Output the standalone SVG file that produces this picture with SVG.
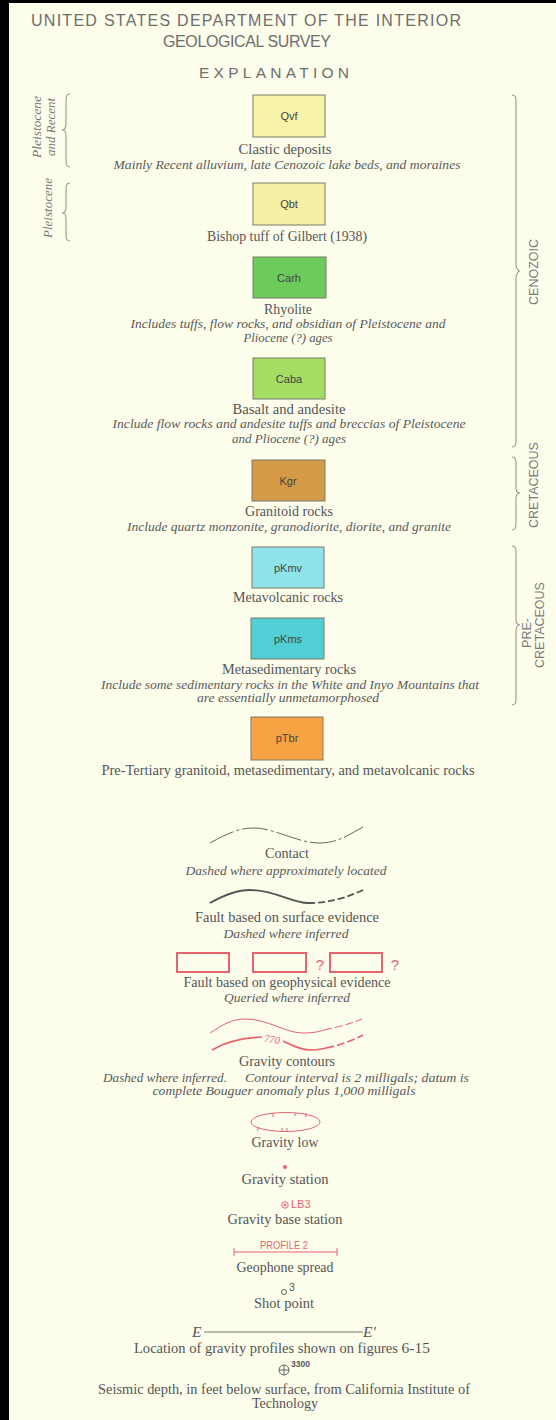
<svg xmlns="http://www.w3.org/2000/svg" width="556" height="1420" viewBox="0 0 556 1420">
<style>
.hd{font-family:"Liberation Sans",Arial,sans-serif;fill:#6e6e6e;text-anchor:middle}
.lb{font-family:"Liberation Serif","Times New Roman",serif;font-size:14.5px;fill:#555;text-anchor:middle}
.ds{font-family:"Liberation Serif","Times New Roman",serif;font-style:italic;font-size:13px;fill:#5a5a5a;text-anchor:middle}
.bx{stroke:#7a7a6a;stroke-width:1}
.bt{font-family:"Liberation Sans",Arial,sans-serif;font-size:11px;fill:#444;text-anchor:middle}
.era{font-family:"Liberation Sans",Arial,sans-serif;font-size:12.5px;fill:#7a7a7a;text-anchor:middle}
.age{font-family:"Liberation Serif","Times New Roman",serif;font-style:italic;font-size:13.5px;fill:#777;text-anchor:middle}
.br{fill:none;stroke:#999;stroke-width:1.1}
.red{fill:none;stroke:#E5646F}
.rt{font-family:"Liberation Sans",Arial,sans-serif;fill:#E5646F}
</style>
<rect x="0" y="0" width="556" height="1420" fill="#FDFDEC"/>
<rect x="0" y="0" width="9" height="1420" fill="#000"/>
<rect x="0" y="0" width="556" height="3" fill="#000"/>

<g id="header">
<text class="hd" x="246" y="26" font-size="16" textLength="430" lengthAdjust="spacing">UNITED STATES DEPARTMENT OF THE INTERIOR</text>
<text class="hd" x="247" y="47" font-size="16" textLength="168" lengthAdjust="spacing">GEOLOGICAL SURVEY</text>
<text class="hd" x="274" y="78" font-size="15.5" textLength="150" lengthAdjust="spacing">EXPLANATION</text>
</g>

<g id="connectors">
<path class="br" d="M70,94 C66,94 66,97 66,102 L66,124 C66,128 64,130 62,130 C64,130 66,132 66,136 L66,159 C66,164 66,167 70,167"/>
<path class="br" d="M70,183 C66,183 66,186 66,191 L66,207 C66,211 64,213 62,213 C64,213 66,215 66,219 L66,233 C66,238 66,241 70,241"/>
<path class="br" d="M512,95 C516,95 516,98 516,103 L516,264 C516,268 518,271 520,271 C518,271 516,274 516,278 L516,439 C516,444 516,447 512,447"/>
<path class="br" d="M512,457 C516,457 516,460 516,465 L516,487 C516,491 518,493 520,493 C518,493 516,495 516,499 L516,522 C516,527 516,530 512,530"/>
<path class="br" d="M512,546 C516,546 516,549 516,554 L516,619 C516,623 518,625 520,625 C518,625 516,627 516,631 L516,697 C516,702 516,705 512,705"/>
</g>

<g id="age-labels">
<text class="age" transform="translate(41,127) rotate(-90)" textLength="62" lengthAdjust="spacingAndGlyphs">Pleistocene</text>
<text class="age" transform="translate(55,127) rotate(-90)" textLength="58" lengthAdjust="spacingAndGlyphs">and Recent</text>
<text class="age" transform="translate(52,208) rotate(-90)" textLength="60" lengthAdjust="spacingAndGlyphs">Pleistocene</text>
<text class="era" transform="translate(538,272) rotate(-90)">CENOZOIC</text>
<text class="era" transform="translate(538,485) rotate(-90)">CRETACEOUS</text>
<text class="era" transform="translate(531,633) rotate(-90)">PRE-</text>
<text class="era" transform="translate(544,625) rotate(-90)">CRETACEOUS</text>
</g>

<g id="Qvf">
<rect class="bx" x="253" y="95" width="72" height="42" fill="#F8F4A8"/>
<text class="bt" x="289" y="120">Qvf</text>
<text class="lb" x="285" y="154" textLength="93" lengthAdjust="spacingAndGlyphs">Clastic deposits</text>
<text class="ds" x="287" y="169" textLength="347" lengthAdjust="spacingAndGlyphs">Mainly Recent alluvium, late Cenozoic lake beds, and moraines</text>
</g>

<g id="Qbt">
<rect class="bx" x="253" y="183" width="72" height="42" fill="#F6F0A4"/>
<text class="bt" x="289" y="208">Qbt</text>
<text class="lb" x="287" y="241" textLength="160" lengthAdjust="spacingAndGlyphs">Bishop tuff of Gilbert (1938)</text>
</g>

<g id="Carh">
<rect class="bx" x="253" y="257" width="73" height="41" fill="#6DCB5B"/>
<text class="bt" x="289" y="282" fill="#2d4d22">Carh</text>
<text class="lb" x="288" y="314" textLength="48" lengthAdjust="spacingAndGlyphs">Rhyolite</text>
<text class="ds" x="288" y="328" textLength="315" lengthAdjust="spacingAndGlyphs">Includes tuffs, flow rocks, and obsidian of Pleistocene and</text>
<text class="ds" x="288" y="342" textLength="89" lengthAdjust="spacingAndGlyphs">Pliocene (?) ages</text>
</g>

<g id="Caba">
<rect class="bx" x="253" y="358" width="72" height="41" fill="#A3DD62"/>
<text class="bt" x="289" y="383" fill="#2d4d22">Caba</text>
<text class="lb" x="289" y="414" textLength="113" lengthAdjust="spacingAndGlyphs">Basalt and andesite</text>
<text class="ds" x="289" y="428" textLength="353" lengthAdjust="spacingAndGlyphs">Include flow rocks and andesite tuffs and breccias of Pleistocene</text>
<text class="ds" x="289" y="443" textLength="114" lengthAdjust="spacingAndGlyphs">and Pliocene (?) ages</text>
</g>

<g id="Kgr">
<rect class="bx" x="252" y="460" width="73" height="41" fill="#D59A48"/>
<text class="bt" x="288" y="485">Kgr</text>
<text class="lb" x="289" y="516" textLength="88" lengthAdjust="spacingAndGlyphs">Granitoid rocks</text>
<text class="ds" x="289" y="531" textLength="324" lengthAdjust="spacingAndGlyphs">Include quartz monzonite, granodiorite, diorite, and granite</text>
</g>

<g id="pKmv">
<rect class="bx" x="252" y="547" width="72" height="41" fill="#90E3EA"/>
<text class="bt" x="288" y="572" fill="#1f5f66">pKmv</text>
<text class="lb" x="288" y="602" textLength="110" lengthAdjust="spacingAndGlyphs">Metavolcanic rocks</text>
</g>

<g id="pKms">
<rect class="bx" x="251" y="618" width="73" height="41" fill="#52CFD4"/>
<text class="bt" x="288" y="643" fill="#1f5560">pKms</text>
<text class="lb" x="289" y="674" textLength="134" lengthAdjust="spacingAndGlyphs">Metasedimentary rocks</text>
<text class="ds" x="290" y="689" textLength="378" lengthAdjust="spacingAndGlyphs">Include some sedimentary rocks in the White and Inyo Mountains that</text>
<text class="ds" x="288" y="702" textLength="182" lengthAdjust="spacingAndGlyphs">are essentially unmetamorphosed</text>
</g>

<g id="pTbr">
<rect class="bx" x="251" y="717" width="72" height="43" fill="#F7A343"/>
<text class="bt" x="287" y="742">pTbr</text>
<text class="lb" x="288" y="775" textLength="373" lengthAdjust="spacingAndGlyphs">Pre-Tertiary granitoid, metasedimentary, and metavolcanic rocks</text>
</g>

<g id="contact">
<path d="M210,843 C228,833 240,828 253,828 C276,828 296,843 320,843 C338,843 350,834 363,827" fill="none" stroke="#666" stroke-width="1" stroke-dasharray="26 3 3 3"/>
<text class="lb" x="287" y="858" textLength="44" lengthAdjust="spacingAndGlyphs">Contact</text>
<text class="ds" x="286" y="875" textLength="201" lengthAdjust="spacingAndGlyphs">Dashed where approximately located</text>
</g>

<g id="fault-surface">
<path d="M210,903 C226,894 238,890 250,890 C275,890 292,903 308,903" fill="none" stroke="#555" stroke-width="1.8"/>
<path d="M308,903 C330,903 348,897 363,890" fill="none" stroke="#555" stroke-width="1.8" stroke-dasharray="7 3"/>
<text class="lb" x="287" y="922" textLength="184" lengthAdjust="spacingAndGlyphs">Fault based on surface evidence</text>
<text class="ds" x="286" y="938" textLength="125" lengthAdjust="spacingAndGlyphs">Dashed where inferred</text>
</g>

<g id="fault-geophysical">
<rect class="red" x="177" y="953" width="52" height="19" stroke-width="2"/>
<rect class="red" x="253" y="953" width="53" height="19" stroke-width="2"/>
<rect class="red" x="330" y="953" width="52" height="19" stroke-width="2"/>
<text class="rt" x="320" y="970" font-size="15" text-anchor="middle">?</text>
<text class="rt" x="395" y="970" font-size="15" text-anchor="middle">?</text>
<text class="lb" x="287" y="987" textLength="207" lengthAdjust="spacingAndGlyphs">Fault based on geophysical evidence</text>
<text class="ds" x="287" y="1002" textLength="126" lengthAdjust="spacingAndGlyphs">Queried where inferred</text>
</g>

<g id="gravity-contours">
<path class="red" d="M210,1033 C222,1025 232,1019 245,1019 C268,1019 285,1033 303,1033 C312,1033 318,1032 324,1030" stroke-width="1"/>
<path class="red" d="M324,1030 C338,1027 350,1024 362,1019" stroke-width="1" stroke-dasharray="8 3"/>
<path class="red" d="M212,1050 C225,1042 240,1038 262,1037" stroke-width="1.7"/>
<path class="red" d="M283,1041 C292,1045 300,1050 312,1050 C318,1050 322,1049 326,1048" stroke-width="1.7"/>
<path class="red" d="M326,1048 C340,1045 352,1041 363,1035" stroke-width="1.7" stroke-dasharray="8 3"/>
<text x="272" y="1043" font-family="Liberation Serif, serif" font-style="italic" font-size="10.5" fill="#E5646F" text-anchor="middle" transform="rotate(8 272 1040)">770</text>
<text class="lb" x="287" y="1066" textLength="96" lengthAdjust="spacingAndGlyphs">Gravity contours</text>
<text class="ds" x="165" y="1082" font-size="11.5" textLength="124" lengthAdjust="spacingAndGlyphs">Dashed where inferred.</text>
<text class="ds" x="357" y="1082" font-size="11.5" textLength="224" lengthAdjust="spacingAndGlyphs">Contour interval is 2 milligals; datum is</text>
<text class="ds" x="284" y="1095" font-size="11.5" textLength="263" lengthAdjust="spacingAndGlyphs">complete Bouguer anomaly plus 1,000 milligals</text>
</g>

<g id="gravity-low">
<ellipse class="red" cx="285.5" cy="1122" rx="34.5" ry="9.5" stroke-width="1"/>
<path class="red" stroke-width="1" d="M273,1113 v4 M295,1113 v3 M306,1113 v4 M258,1131 v-4 M282,1132 v-4 M287,1132 v-4"/>
<text class="lb" x="285" y="1147" textLength="67" lengthAdjust="spacingAndGlyphs">Gravity low</text>
</g>

<g id="gravity-station">
<circle cx="285" cy="1167" r="2" fill="#E5646F"/>
<text class="lb" x="285" y="1184" textLength="87" lengthAdjust="spacingAndGlyphs">Gravity station</text>
</g>

<g id="gravity-base-station">
<circle class="red" cx="285" cy="1205" r="3.2" stroke-width="1"/>
<circle cx="285" cy="1205" r="1.3" fill="#E5646F"/>
<text class="rt" x="291" y="1208" font-size="11">LB3</text>
<text class="lb" x="285" y="1224" textLength="115" lengthAdjust="spacingAndGlyphs">Gravity base station</text>
</g>

<g id="geophone-spread">
<text class="rt" x="284" y="1249" font-size="11.5" text-anchor="middle" textLength="48" lengthAdjust="spacingAndGlyphs">PROFILE 2</text>
<path class="red" stroke-width="1" d="M234,1252 H337 M234,1248 V1256 M337,1248 V1256"/>
<text class="lb" x="285" y="1272" textLength="97" lengthAdjust="spacingAndGlyphs">Geophone spread</text>
</g>

<g id="shot-point">
<circle cx="284" cy="1292" r="2.5" fill="none" stroke="#666" stroke-width="1"/>
<text x="289" y="1291" font-family="Liberation Sans, Arial, sans-serif" font-size="10.5" fill="#555">3</text>
<text class="lb" x="284" y="1308" textLength="60" lengthAdjust="spacingAndGlyphs">Shot point</text>
</g>

<g id="gravity-profile">
<text x="192" y="1337" font-family="Liberation Serif, serif" font-style="italic" font-size="15.5" fill="#555">E</text>
<line x1="204" y1="1332" x2="363" y2="1332" stroke="#777" stroke-width="1"/>
<text x="363" y="1337" font-family="Liberation Serif, serif" font-style="italic" font-size="15.5" fill="#555">E′</text>
<text class="lb" x="282" y="1353" textLength="296" lengthAdjust="spacingAndGlyphs">Location of gravity profiles shown on figures <tspan font-size="15.5">6-15</tspan></text>
</g>

<g id="seismic-depth">
<circle cx="284" cy="1370" r="5" fill="none" stroke="#666" stroke-width="1"/>
<path d="M279,1370 H289 M284,1365 V1375" stroke="#666" stroke-width="1"/>
<text x="291" y="1367" font-family="Liberation Sans, Arial, sans-serif" font-size="8.5" font-weight="bold" fill="#555">3300</text>
<text class="lb" x="284" y="1394" font-size="13.5" textLength="372" lengthAdjust="spacingAndGlyphs">Seismic depth, in feet below surface, from California Institute of</text>
<text class="lb" x="285" y="1408" font-size="13.5" textLength="66" lengthAdjust="spacingAndGlyphs">Technology</text>
</g>
</svg>
